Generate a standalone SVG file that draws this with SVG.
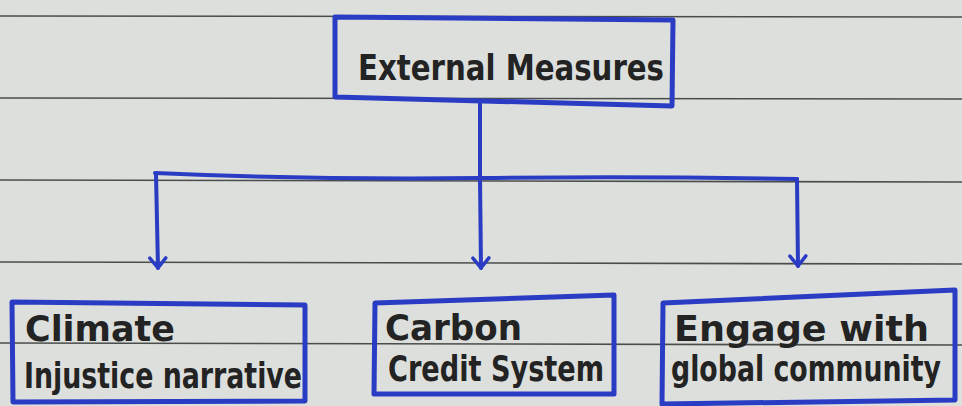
<svg xmlns="http://www.w3.org/2000/svg" width="962" height="406" viewBox="0 0 962 406">
<defs>
<style>
.rule{stroke:#4a4d4b;stroke-width:1.6;fill:none}
.box{fill:none;stroke:#2a3cc4;stroke-width:5;stroke-linejoin:round}
.conn{fill:none;stroke:#2a3cc4;stroke-width:4;stroke-linecap:round;stroke-linejoin:round}
.t{font-family:"DejaVu Sans Condensed","Liberation Sans Narrow","Liberation Sans",sans-serif;fill:#232323;font-weight:bold;font-size:35px}
</style>
<marker id="arr" viewBox="0 0 20 20" refX="18" refY="10" markerWidth="20" markerHeight="20" markerUnits="userSpaceOnUse" orient="auto">
<path d="M8,2 L18,10 L8,18" fill="none" stroke="#2a3cc4" stroke-width="3.5" stroke-linecap="round" stroke-linejoin="round"/>
</marker>
</defs>
<rect width="962" height="406" fill="#dcdfdc"/>
<g id="paper-lines">
<path class="rule" d="M0,16 L962,17"/>
<path class="rule" d="M0,98 L962,99"/>
<path class="rule" d="M0,180 L962,182"/>
<path class="rule" d="M0,262 L962,264"/>
<path class="rule" d="M0,343 L962,345"/>
</g>
<g id="connectors">
<path class="conn" d="M480,104 L480,176"/>
<path class="conn" d="M155,173 Q320,180 480,178 Q640,176 797,179"/>
<path class="conn" d="M156,174 L158,268" marker-end="url(#arr)"/>
<path class="conn" d="M480,178 L481,268" marker-end="url(#arr)"/>
<path class="conn" d="M797,179 L798,266" marker-end="url(#arr)"/>
</g>
<g id="external-measures">
<path class="box" d="M335,17 L673,20 L672,106 L335,97 Z"/>
<text class="t" x="358" y="80" font-size="42" textLength="306" lengthAdjust="spacingAndGlyphs">External Measures</text>
</g>
<g id="climate-injustice">
<path class="box" d="M12,302 L305,305 L305,401 L13,402 Z"/>
<text class="t" x="25" y="341" textLength="150" lengthAdjust="spacingAndGlyphs">Climate</text>
<text class="t" x="24" y="388" textLength="278" lengthAdjust="spacingAndGlyphs">Injustice narrative</text>
</g>
<g id="carbon-credit">
<path class="box" d="M375,303 L614,295 L614,394 L374,394 Z"/>
<text class="t" x="385" y="340" textLength="137" lengthAdjust="spacingAndGlyphs">Carbon</text>
<text class="t" x="388" y="381" textLength="216" lengthAdjust="spacingAndGlyphs">Credit System</text>
</g>
<g id="global-community">
<path class="box" d="M663,303 L955,290 L955,400 L662,404 Z"/>
<text class="t" x="674" y="341" textLength="255" lengthAdjust="spacingAndGlyphs">Engage with</text>
<text class="t" x="671" y="381" font-size="31" textLength="270" lengthAdjust="spacingAndGlyphs">global community</text>
</g>
</svg>
